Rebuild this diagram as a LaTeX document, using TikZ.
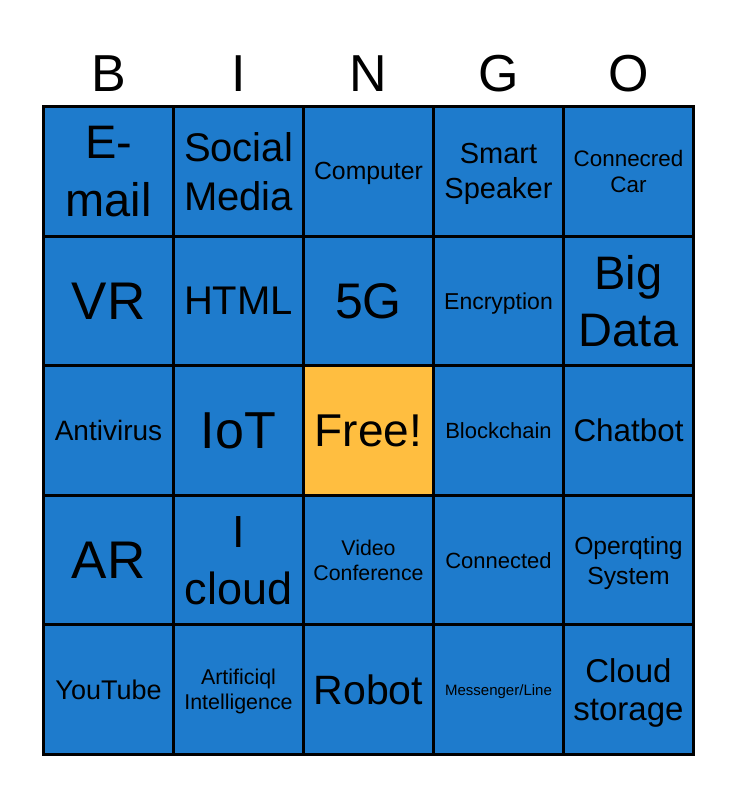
\documentclass[tikz,border=0pt]{standalone}
\usepackage{fontspec}
\setmainfont{Liberation Sans}
\definecolor{cellblue}{RGB}{30,123,204}
\definecolor{freeyellow}{RGB}{255,190,64}
\newcommand{\fsz}[2]{\fontsize{#1pt}{#2pt}\selectfont}
\begin{document}
\begin{tikzpicture}[x=1pt,y=-1pt,
  cellbox/.style={draw=black, line width=3pt, fill=cellblue, minimum width=130pt, minimum height=129.6pt, inner sep=0pt, align=center, text depth=0pt},
  freebox/.style={cellbox, fill=freeyellow},
  hdr/.style={anchor=base, inner sep=0pt, font=\fsz{52}{60}}]
\useasboundingbox (0,0) rectangle (737,800);
% header
\node[hdr] (hB) at (108.5,92) {B};
\node[hdr] (hI) at (238.5,92) {I};
\node[hdr] (hN) at (368.5,92) {N};
\node[hdr] (hG) at (498.5,92) {G};
\node[hdr] (hO) at (628.5,92) {O};
% row 1
\node[cellbox, font=\fsz{47}{58}] (c11) at (108.5,171.3) {E-\\mail};
\node[cellbox, font=\fsz{40}{49}] (c12) at (238.5,171.3) {Social\\Media};
\node[cellbox, font=\fsz{24.8}{30}] (c13) at (368.5,171.3) {Computer};
\node[cellbox, font=\fsz{29}{35}] (c14) at (498.5,171.3) {Smart\\Speaker};
\node[cellbox, font=\fsz{22.4}{26.7}] (c15) at (628.5,171.3) {Connecred\\Car};
% row 2
\node[cellbox, font=\fsz{53}{60}] (c21) at (108.5,300.9) {VR};
\node[cellbox, font=\fsz{40}{48}] (c22) at (238.5,300.9) {HTML};
\node[cellbox, font=\fsz{50}{60}] (c23) at (368.5,300.9) {5G};
\node[cellbox, font=\fsz{23}{28}] (c24) at (498.5,300.9) {Encryption};
\node[cellbox, font=\fsz{47}{57.6}] (c25) at (628.5,300.9) {Big\\Data};
% row 3
\node[cellbox, font=\fsz{28}{34}] (c31) at (108.5,430.5) {Antivirus};
\node[cellbox, font=\fsz{52}{60}] (c32) at (238.5,430.5) {IoT};
\node[freebox, font=\fsz{46}{55}] (c33) at (368.5,430.5) {Free!};
\node[cellbox, font=\fsz{22}{26}] (c34) at (498.5,430.5) {Blockchain};
\node[cellbox, font=\fsz{31.4}{38}] (c35) at (628.5,430.5) {Chatbot};
% row 4
\node[cellbox, font=\fsz{53}{60}] (c41) at (108.5,560.1) {AR};
\node[cellbox, font=\fsz{45}{57}] (c42) at (238.5,560.1) {I\\cloud};
\node[cellbox, font=\fsz{21.3}{25}] (c43) at (368.5,560.1) {Video\\Conference};
\node[cellbox, font=\fsz{22}{26}] (c44) at (498.5,560.1) {Connected};
\node[cellbox, font=\fsz{24.7}{30}] (c45) at (628.5,560.1) {Operqting\\System};
% row 5
\node[cellbox, font=\fsz{27}{32}] (c51) at (108.5,689.7) {YouTube};
\node[cellbox, font=\fsz{21.4}{25}] (c52) at (238.5,689.7) {Artificiql\\Intelligence};
\node[cellbox, font=\fsz{41}{49}] (c53) at (368.5,689.7) {Robot};
\node[cellbox, font=\fsz{15}{18}] (c54) at (498.5,689.7) {Messenger/Line};
\node[cellbox, font=\fsz{33}{38}] (c55) at (628.5,689.7) {Cloud\\storage};
\end{tikzpicture}
\end{document}
